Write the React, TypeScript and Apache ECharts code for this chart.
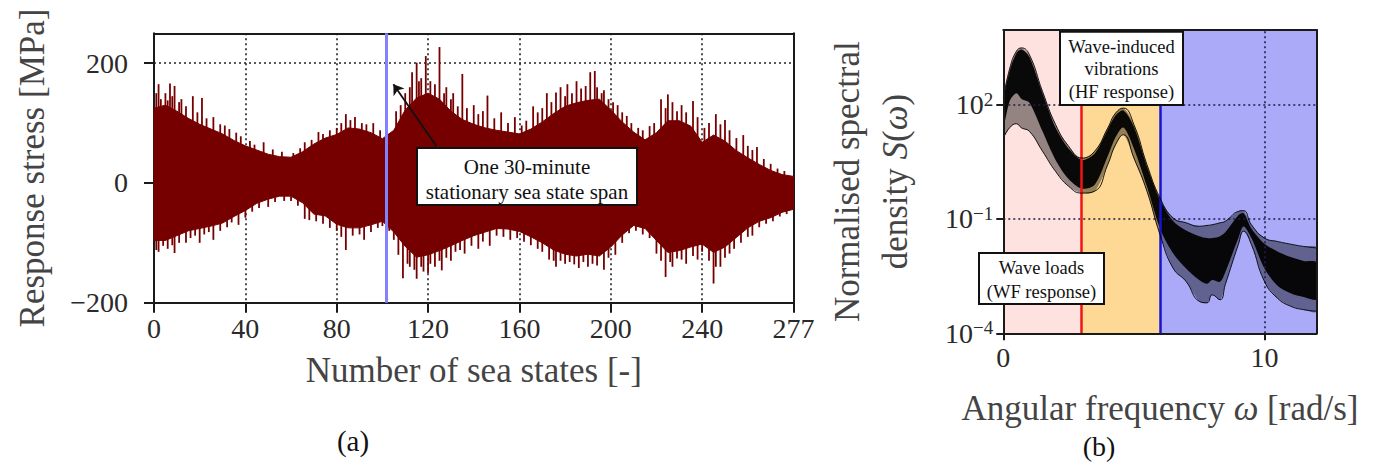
import React, { useEffect, useRef } from 'react';
import * as echarts from 'echarts';

// ---------- Panel (a): response stress vs number of sea states ----------
const seaStateTicks = [0, 40, 80, 120, 160, 200, 240, 280];
const seaStateTickLabels = ['0', '40', '80', '120', '160', '200', '240', '277'];
const stressTicks = [-200, 0, 200];

// dense body of the signal (outer reach of the dense part), every 5 sea states
const bodyX = [0, 5, 10, 15, 20, 25, 30, 35, 40, 45, 50, 55, 60, 65, 70, 75, 80, 85, 90, 95, 100, 105, 110, 115, 120, 125, 130, 135, 140, 145, 150, 155, 160, 165, 170, 175, 180, 185, 190, 195, 200, 205, 210, 215, 220, 225, 230, 235, 240, 245, 250, 255, 260, 265, 270, 275, 280];
const bodyUpper = [125, 130, 120, 108, 98, 90, 82, 71, 62, 55, 48, 44, 43, 52, 65, 75, 81, 92, 90, 84, 74, 88, 122, 142, 150, 140, 120, 106, 98, 92, 88, 85, 82, 90, 102, 116, 128, 134, 138, 140, 122, 102, 85, 72, 84, 104, 104, 95, 68, 80, 70, 54, 42, 31, 21, 14, 11];
const bodyLower = [-96, -96, -88, -80, -76, -72, -67, -56, -46, -34, -27, -22, -22, -33, -52, -55, -69, -75, -75, -70, -64, -82, -106, -124, -120, -113, -105, -96, -88, -82, -76, -77, -81, -90, -100, -112, -119, -122, -119, -122, -107, -87, -71, -76, -96, -116, -113, -107, -102, -116, -107, -91, -75, -64, -58, -49, -44];

// individual stress peaks [sea state, MPa]
const peaksUp: number[][] = [[1,150],[2,165],[3,140],[5,150],[6,138],[7,166],[8,145],[9,162],[11,135],[12,140],[14,128],[17,145],[19,118],[21,142],[23,108],[26,110],[29,98],[31,96],[33,90],[36,84],[38,78],[42,70],[44,64],[48,68],[52,56],[56,52],[61,50],[64,58],[66,68],[69,72],[72,85],[74,82],[77,88],[80,92],[82,100],[84,115],[86,105],[88,110],[91,100],[93,98],[96,100],[99,88],[103,82],[106,120],[108,130],[110,150],[112,160],[113,185],[115,201],[116,170],[117,175],[119,212],[121,170],[123,165],[125,227],[127,150],[128,160],[130,140],[131,150],[133,128],[135,182],[137,125],[140,130],[142,115],[144,120],[146,146],[149,108],[152,118],[155,100],[158,110],[161,96],[163,104],[166,128],[168,118],[170,125],[172,150],[174,135],[176,151],[178,160],[180,145],[181,165],[183,150],[185,170],[187,158],[189,162],[191,185],[193,187],[194,160],[196,150],[197,155],[199,140],[201,135],[203,130],[205,118],[207,112],[209,100],[212,92],[214,88],[217,95],[219,100],[222,140],[224,125],[225,148],[227,135],[229,120],[231,130],[233,118],[236,137],[238,110],[241,92],[243,100],[246,115],[248,98],[250,105],[252,88],[255,75],[258,80],[260,62],[262,55],[264,60],[267,40],[270,32],[273,24],[276,20]];
const peaksDown: number[][] = [[1,-112],[2,-115],[4,-105],[6,-110],[8,-104],[9,-117],[11,-100],[14,-100],[16,-92],[18,-88],[20,-100],[22,-86],[24,-82],[26,-95],[29,-80],[32,-74],[34,-66],[37,-70],[40,-58],[43,-48],[46,-42],[50,-40],[53,-32],[57,-30],[60,-30],[63,-38],[66,-60],[68,-62],[71,-64],[74,-68],[77,-75],[80,-80],[82,-90],[84,-112],[87,-88],[90,-86],[92,-95],[95,-82],[98,-75],[100,-72],[103,-80],[105,-95],[107,-120],[109,-159],[111,-135],[112,-140],[114,-145],[115,-160],[117,-140],[118,-148],[120,-151],[121,-135],[123,-140],[125,-130],[126,-146],[128,-125],[130,-130],[132,-115],[134,-112],[136,-118],[139,-105],[142,-110],[144,-98],[147,-105],[150,-88],[153,-90],[156,-95],[159,-92],[162,-98],[165,-104],[168,-110],[170,-115],[173,-128],[175,-130],[176,-140],[178,-130],[180,-135],[182,-132],[184,-136],[186,-142],[188,-132],[190,-140],[192,-135],[194,-138],[197,-145],[199,-125],[202,-120],[205,-100],[208,-84],[211,-80],[214,-86],[217,-92],[220,-118],[222,-130],[224,-157],[226,-132],[227,-140],[229,-126],[231,-128],[233,-135],[236,-122],[238,-128],[240,-115],[243,-130],[245,-168],[246,-140],[248,-140],[250,-125],[252,-118],[254,-110],[257,-100],[260,-90],[262,-88],[265,-74],[268,-68],[271,-64],[274,-56],[277,-52]];

const spanMarkerX = 101.5;
const arrowTail = [123.7, 61.4];
const arrowHead = [104.8, 165];

// ---------- Panel (b): normalised spectral density (log10 S) ----------
const omega = [0, 0.25, 0.5, 0.7, 1, 1.5, 2, 2.5, 3, 3.5, 4, 4.3, 4.6, 5, 5.5, 6, 6.5, 7, 7.5, 7.8, 8, 8.3, 8.5, 9, 9.2, 9.5, 10, 10.5, 11, 11.5, 12];
const log10SUpper = [2.17, 2.96, 3.4, 3.49, 3.31, 2.35, 1.48, 0.91, 0.6, 0.78, 1.39, 1.78, 1.91, 1.48, 0.43, -0.45, -0.97, -1.1, -1.19, -1.17, -1.15, -1.1, -1.06, -0.8, -0.78, -1.15, -1.5, -1.59, -1.66, -1.72, -1.76];
const log10SLower = [1.13, 1.4, 1.5, 1.39, 1.3, 0.78, 0.25, -0.14, -0.32, -0.27, 0.43, 0.95, 1.21, 0.6, -0.27, -1.41, -2.29, -2.64, -3.16, -3.2, -2.99, -3.12, -2.72, -1.67, -1.32, -1.67, -2.64, -3.08, -3.29, -3.38, -3.42];
const log10SCoreHigh = [2.1, 2.9, 3.35, 3.45, 3.25, 2.3, 1.4, 0.85, 0.55, 0.72, 1.35, 1.72, 1.85, 1.42, 0.38, -0.5, -1.05, -1.3, -1.45, -1.5, -1.5, -1.45, -1.35, -0.9, -0.85, -1.25, -1.65, -1.85, -2.0, -2.1, -2.15];
const log10SCoreLow = [1.4, 2.1, 2.3, 2.15, 2.05, 1.3, 0.55, 0.05, -0.2, -0.1, 0.65, 1.15, 1.4, 0.85, -0.15, -1.25, -1.9, -2.3, -2.6, -2.7, -2.6, -2.65, -2.4, -1.5, -1.2, -1.5, -2.3, -2.75, -2.95, -3.05, -3.1];
const logTicks = [-4, -1, 2];
const omegaTicks = [0, 10];
const bandStarts = [0, 3, 6];
const bandEnds = [3, 6, 12];
const bandColors = ['#fde2df', '#fed995', '#aaaaf9'];
const wfLimit = 3;
const hfLimit = 6;

const RED = '#760000';
const FONT = 'Liberation Serif';
const Y_MIN_B = -4;
const Y_MAX_B = 3.96;

export default function App() {
  const ref = useRef<HTMLDivElement>(null);
  useEffect(() => {
    const chart = echarts.init(ref.current as HTMLDivElement, null, { renderer: 'svg' });

    const frameLine = { show: true, onZero: false, lineStyle: { color: '#1a1a1a', width: 2 } };
    const tickFont = { fontSize: 28, fontFamily: FONT, color: '#2a2a2a' };
    const nameFont = { fontSize: 35, fontFamily: FONT, color: '#444' };

    const bodyRender = (params: any, api: any) => {
      const pts: number[][] = [];
      for (let i = 0; i < bodyX.length; i++) pts.push(api.coord([bodyX[i], bodyUpper[i]]));
      for (let i = bodyX.length - 1; i >= 0; i--) pts.push(api.coord([bodyX[i], bodyLower[i]]));
      return { type: 'polygon', shape: { points: pts }, style: { fill: RED, stroke: RED, lineWidth: 1 } };
    };
    const peakRender = (params: any, api: any) => {
      const x = api.value(0);
      const a = api.coord([x, 0]);
      const b = api.coord([x, api.value(1)]);
      return { type: 'line', shape: { x1: a[0], y1: a[1], x2: b[0], y2: b[1] }, style: { stroke: RED, lineWidth: 1.8 } };
    };
    const bandRender = (hi: number[], lo: number[], fill: string) => (params: any, api: any) => {
      const pts: number[][] = [];
      for (let i = 0; i < omega.length; i++) pts.push(api.coord([omega[i], hi[i]]));
      for (let i = omega.length - 1; i >= 0; i--) pts.push(api.coord([omega[i], lo[i]]));
      return { type: 'polygon', shape: { points: pts, smooth: 0.3 }, style: { fill } };
    };
    const bgRender = (params: any, api: any) => {
      const p0 = api.coord([api.value(0), Y_MAX_B]);
      const p1 = api.coord([api.value(1), Y_MIN_B]);
      return { type: 'rect', shape: { x: p0[0], y: p0[1], width: p1[0] - p0[0], height: p1[1] - p0[1] }, style: { fill: bandColors[api.value(2)] } };
    };
    const supLabel = (v: number) => {
      const e = v < 0 ? '\u2212' + Math.abs(v) : String(v);
      return `{b|10}{s|${e}}`;
    };

    const txt = (text: string, x: number, y: number, size: number) => ({
      type: 'text', x, y, z: 101,
      style: { text, fontSize: size, fontFamily: FONT, fill: '#111', align: 'center', verticalAlign: 'middle', textAlign: 'center', textVerticalAlign: 'middle' },
    });
    const box = (x: number, y: number, w: number, h: number) => ({
      type: 'rect', z: 100, shape: { x, y, width: w, height: h },
      style: { fill: '#ffffff', stroke: '#111', lineWidth: 2 },
    });

    const option: any = {
      animation: false,
      grid: [
        { left: 154, top: 33.3, width: 639.5, height: 269.4, outerBoundsMode: 'none' },
        { left: 1003.3, top: 30, width: 313.4, height: 303.3, outerBoundsMode: 'none' },
      ],
      xAxis: [
        {
          type: 'value', gridIndex: 0, min: 0, max: 280, interval: 40, position: 'bottom',
          axisLine: frameLine,
          axisTick: { show: true, length: 10, lineStyle: { color: '#1a1a1a', width: 2 } },
          axisLabel: { ...tickFont, margin: 12, formatter: (v: number) => { const i = seaStateTicks.indexOf(v); return i >= 0 ? seaStateTickLabels[i] : ''; } },
          splitLine: { show: true, lineStyle: { type: [2, 3], color: '#222', width: 1.6 } },
          name: 'Number of sea states [-]', nameLocation: 'middle', nameGap: 50, nameTextStyle: nameFont,
        },
        { type: 'value', gridIndex: 0, min: 0, max: 280, position: 'top', axisLine: frameLine, axisTick: { show: false }, axisLabel: { show: false }, splitLine: { show: false } },
        {
          type: 'value', gridIndex: 1, min: 0, max: 12, interval: 10, position: 'bottom', z: 10,
          axisLine: frameLine,
          axisTick: { show: true, length: 7, customValues: omegaTicks, lineStyle: { color: '#1a1a1a', width: 2 } },
          axisLabel: { ...tickFont, margin: 10, customValues: omegaTicks },
          splitLine: { show: false },
          name: 'Angular frequency {i|ω} [rad/s]', nameLocation: 'middle', nameGap: 58,
          nameTextStyle: { ...nameFont, rich: { i: { ...nameFont, fontStyle: 'italic' } } },
        },
        { type: 'value', gridIndex: 1, min: 0, max: 12, position: 'top', z: 10, axisLine: frameLine, axisTick: { show: false }, axisLabel: { show: false }, splitLine: { show: false } },
      ],
      yAxis: [
        {
          type: 'value', gridIndex: 0, min: -200, max: 250, interval: 200, position: 'left',
          axisLine: frameLine,
          axisTick: { show: true, length: 10, customValues: stressTicks, lineStyle: { color: '#1a1a1a', width: 2 } },
          axisLabel: { ...tickFont, margin: 26, customValues: stressTicks, formatter: (v: number) => (v < 0 ? '\u2212' + Math.abs(v) : String(v)) },
          splitLine: { show: true, lineStyle: { type: [2, 3], color: '#222', width: 1.6 } },
          name: 'Response stress [MPa]', nameLocation: 'middle', nameGap: 104, nameRotate: 90, nameTextStyle: nameFont,
        },
        { type: 'value', gridIndex: 0, min: -200, max: 250, position: 'right', axisLine: frameLine, axisTick: { show: false }, axisLabel: { show: false }, splitLine: { show: false } },
        {
          type: 'value', gridIndex: 1, min: Y_MIN_B, max: Y_MAX_B, interval: 3, position: 'left', z: 10,
          axisLine: frameLine,
          axisTick: { show: true, length: 7, customValues: logTicks, lineStyle: { color: '#1a1a1a', width: 2 } },
          axisLabel: {
            margin: 10, customValues: logTicks, formatter: supLabel,
            rich: {
              b: { fontSize: 28, fontFamily: FONT, color: '#2a2a2a', lineHeight: 30 },
              s: { fontSize: 19, fontFamily: FONT, color: '#2a2a2a', lineHeight: 30, verticalAlign: 'top', padding: [0, 0, 12, 0] },
            },
          },
          splitLine: { show: false },
          name: 'Normalised spectral\ndensity {i|S}({i|ω})', nameLocation: 'middle', nameGap: 84, nameRotate: 90,
          nameTextStyle: { ...nameFont, lineHeight: 48, rich: { i: { ...nameFont, fontStyle: 'italic', lineHeight: 48 } } },
        },
        { type: 'value', gridIndex: 1, min: Y_MIN_B, max: Y_MAX_B, position: 'right', z: 10, axisLine: frameLine, axisTick: { show: false }, axisLabel: { show: false }, splitLine: { show: false } },
      ],
      series: [
        { type: 'custom', name: 'stress body', xAxisIndex: 0, yAxisIndex: 0, data: [[0, 0]], renderItem: bodyRender, z: 2, silent: true },
        { type: 'custom', name: 'stress peaks', xAxisIndex: 0, yAxisIndex: 0, data: [...peaksUp, ...peaksDown], renderItem: peakRender, z: 3, silent: true },
        {
          type: 'line', name: 'annotations a', xAxisIndex: 0, yAxisIndex: 0, data: [], z: 5,
          markLine: {
            silent: true, symbol: ['none', 'none'], label: { show: false },
            lineStyle: { color: '#111', width: 1.8, type: 'solid' },
            data: [
              { xAxis: spanMarkerX, lineStyle: { color: '#8282ff', width: 3, type: 'solid' } },
              [{ coord: arrowTail, symbol: 'none' }, { coord: arrowHead, symbol: 'arrow', symbolSize: 10 }],
            ],
          },
        },
        { type: 'custom', name: 'regions', xAxisIndex: 2, yAxisIndex: 2, data: bandStarts.map((s, i) => [s, bandEnds[i], i]), renderItem: bgRender, z: 1, silent: true },
        {
          type: 'line', name: 'grid b', xAxisIndex: 2, yAxisIndex: 2, data: [], z: 2,
          markLine: {
            silent: true, symbol: ['none', 'none'], label: { show: false },
            lineStyle: { color: '#1e1e48', width: 1.6, type: [2, 3] },
            data: [{ yAxis: logTicks[2] }, { yAxis: logTicks[1] }, { xAxis: omegaTicks[1] }],
          },
        },
        { type: 'custom', name: 'spectra spread', xAxisIndex: 2, yAxisIndex: 2, data: [[0, 0]], renderItem: bandRender(log10SUpper, log10SLower, 'rgba(0,0,0,0.42)'), z: 3, clip: true, silent: true },
        { type: 'custom', name: 'spectra core', xAxisIndex: 2, yAxisIndex: 2, data: [[0, 0]], renderItem: bandRender(log10SCoreHigh, log10SCoreLow, 'rgba(0,0,0,0.93)'), z: 4, clip: true, silent: true },
        { type: 'line', name: 'upper spectrum', xAxisIndex: 2, yAxisIndex: 2, data: omega.map((w, i) => [w, log10SUpper[i]]), smooth: true, showSymbol: false, lineStyle: { color: '#000', width: 0.9 }, z: 5 },
        { type: 'line', name: 'lower spectrum', xAxisIndex: 2, yAxisIndex: 2, data: omega.map((w, i) => [w, log10SLower[i]]), smooth: true, showSymbol: false, lineStyle: { color: '#000', width: 0.9 }, z: 5 },
        {
          type: 'line', name: 'limits', xAxisIndex: 2, yAxisIndex: 2, data: [], z: 6,
          markLine: {
            silent: true, symbol: ['none', 'none'], label: { show: false },
            data: [
              { xAxis: wfLimit, lineStyle: { color: '#f01414', width: 2.5, type: 'solid' } },
              { xAxis: hfLimit, lineStyle: { color: '#1414d2', width: 2.5, type: 'solid' } },
            ],
          },
        },
      ],
      graphic: [
        box(417, 148, 220, 57),
        txt('One 30-minute', 527, 166.7, 21),
        txt('stationary sea state span', 527, 191.7, 21),
        box(1060, 31.7, 123, 73.3),
        txt('Wave-induced', 1121.5, 46.7, 18.5),
        txt('vibrations', 1121.5, 69.3, 18.5),
        txt('(HF response)', 1121.5, 91.7, 18.5),
        box(979, 253, 125, 51),
        txt('Wave loads', 1041.5, 268.3, 18.5),
        txt('(WF response)', 1041.5, 291.7, 18.5),
        txt('(a)', 353, 441, 29),
        txt('(b)', 1099, 446, 28),
      ],
    };
    chart.setOption(option);
    return () => chart.dispose();
  }, []);
  return <div ref={ref} style={{ position: 'absolute', left: 0, top: 0, width: 1384, height: 465 }} />;
}
